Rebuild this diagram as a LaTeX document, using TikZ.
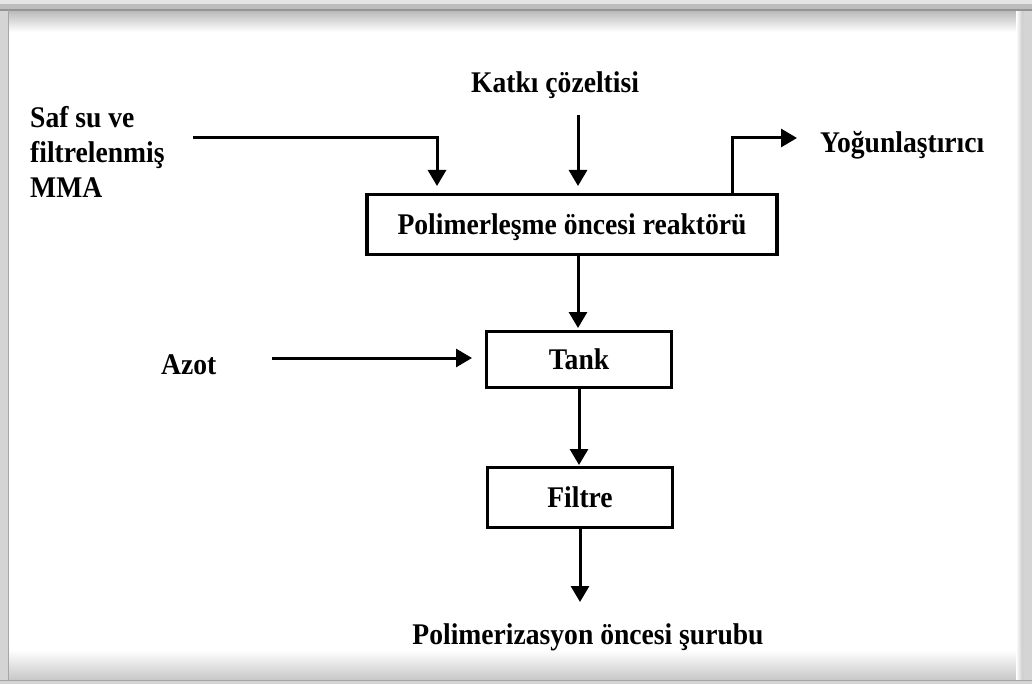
\documentclass[tikz,border=0pt]{standalone}
\usepackage{fontspec}
\setmainfont[FakeStretch=0.92]{Liberation Serif}
\usetikzlibrary{arrows.meta,calc}
\tikzset{
  lbl/.style={font=\fontsize{30}{35}\selectfont\bfseries, inner sep=0pt},
  procbox/.style={draw, line width=3.5pt, inner sep=0pt, font=\fontsize{30}{35}\selectfont\bfseries, text height=20pt, text depth=0pt},
  arr/.style={line width=3pt, -{Triangle[length=16pt,width=18pt]}},
}
\begin{document}
\begin{tikzpicture}[x=1pt,y=-1pt]
\useasboundingbox (0,0) rectangle (1032,684);
% frame
\fill[black!17] (0,0) rectangle (1032,684);
\fill[black!10] (0,0) rectangle (1032,4);
\fill[black!26] (0,4) rectangle (1032,9.5);
\fill[white] (9,10) rectangle (1023,680);
\shade[top color=black!28, bottom color=white] (9,10) rectangle (1023,32);
\shade[top color=white, bottom color=black!22] (9,650) rectangle (1023,680);
\shade[left color=white, right color=black!22] (1016,10) rectangle (1023,680);
\draw[black!42, line width=1.5pt] (0,10) -- (1032,10);
\draw[black!35, line width=1.5pt] (8.5,10) -- (8.5,680);
\draw[black!35, line width=1pt] (0,680.5) -- (1032,680.5);
% boxes
\node[procbox, minimum width=410pt, minimum height=60pt] (reac) at (572,224.5) {Polimerleşme öncesi reaktörü};
\node[procbox, minimum width=185pt, minimum height=56pt] (tank) at (579,359.5) {Tank};
\node[procbox, minimum width=185pt, minimum height=60pt] (filt) at (580,497.5) {Filtre};
% labels
\node[lbl, anchor=base west, align=left] (saf) at (30,198) {Saf su ve\\filtrelenmiş\\MMA};
\node[lbl, anchor=base] (katki) at (555,93) {Katkı çözeltisi};
\node[lbl, anchor=base west] (yog) at (820,153) {Yoğunlaştırıcı};
\node[lbl, anchor=base west] (azot) at (161,374) {Azot};
\node[lbl, anchor=base] (surup) at (588,644) {Polimerizasyon öncesi şurubu};
% helper coordinates
\coordinate (s1) at (193,138);
\coordinate (s2) at (437,186);
\coordinate (k1) at (578,115);
\coordinate (k2) at (578,186);
\coordinate (y1) at (732,194);
\coordinate (y2) at (797,138);
\coordinate (r1) at (578,255);
\coordinate (t0) at (578,328);
\coordinate (a1) at (272,358);
\coordinate (a2) at (472,358);
\coordinate (t1) at (579,388);
\coordinate (f0) at (579,465);
\coordinate (f1) at (580,528);
\coordinate (o1) at (580,602);
% connectors
\draw[arr] (s1) -| (s2);
\draw[arr] (k1) -- (k2);
\draw[arr] (y1) |- (y2);
\draw[arr] (r1) -- (t0);
\draw[arr] (a1) -- (a2);
\draw[arr] (t1) -- (f0);
\draw[arr] (f1) -- (o1);
\end{tikzpicture}
\end{document}
